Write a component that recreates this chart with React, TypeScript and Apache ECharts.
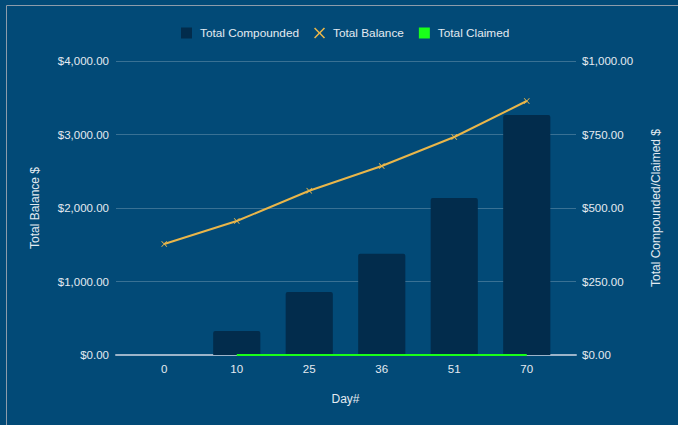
import React, { useEffect, useRef } from "react";
import * as echarts from "echarts";

const days = ["0", "10", "25", "36", "51", "70"];
const totalCompounded = [0, 82, 214, 344, 534, 816];
const totalBalance = [1510, 1823, 2235, 2571, 2966, 3456];
const totalClaimed = [null, 0, 0, 0, 0, 0];

const BG = "#024a77";
const TEXT = "#e4eaf1";
const FONT = "'Liberation Sans', Arial, sans-serif";
const CROSS = "path://M0,1L1,0L5,4L9,0L10,1L6,5L10,9L9,10L5,6L1,10L0,9L4,5Z";

const money = (v: number) =>
  "$" + v.toLocaleString("en-US", { minimumFractionDigits: 2, maximumFractionDigits: 2 });

export default function App() {
  const ref = useRef<HTMLDivElement>(null);
  useEffect(() => {
    document.body.style.margin = "0";
    document.body.style.background = BG;
    const chart = echarts.init(ref.current!, undefined, { renderer: "svg" });
    const outer = { left: 116, right: 102, top: 61, bottom: 70 };
    const inner = { left: 128, right: 115, top: 61, bottom: 70 };
    chart.setOption({
      animation: false,
      backgroundColor: BG,
      textStyle: { fontFamily: FONT },
      graphic: [
        {
          type: "rect",
          shape: { x: 6.5, y: 5.5, width: 700, height: 500 },
          style: { fill: "none", stroke: "#8d9cab", lineWidth: 1 },
          silent: true,
        },
      ],
      legend: {
        top: 22,
        left: 176,
        itemWidth: 11,
        itemHeight: 11,
        itemGap: 15,
        textStyle: { color: TEXT, fontSize: 11.8, fontFamily: FONT, padding: [0, 0, 0, 3] },
        data: [
          { name: "Total Compounded", icon: "rect" },
          { name: "Total Balance", icon: CROSS },
          { name: "Total Claimed", icon: "rect" },
        ],
      },
      grid: [outer, inner],
      xAxis: [
        {
          type: "value",
          gridIndex: 0,
          min: 0,
          max: 1,
          axisLine: { show: true, onZero: false, lineStyle: { color: "#9db4c9", width: 2 } },
          axisTick: { show: false },
          axisLabel: { show: false },
          splitLine: { show: false },
        },
        {
          type: "category",
          gridIndex: 1,
          data: days,
          name: "Day#",
          nameLocation: "middle",
          nameGap: 38,
          nameTextStyle: { color: TEXT, fontSize: 12, fontFamily: FONT },
          axisLine: { show: false },
          axisTick: { show: false },
          axisLabel: { color: TEXT, fontSize: 11.5, margin: 8, fontFamily: FONT },
        },
      ],
      yAxis: [
        {
          type: "value",
          gridIndex: 0,
          min: 0,
          max: 4000,
          interval: 1000,
          name: "Total Balance $",
          nameLocation: "middle",
          nameGap: 75,
          nameTextStyle: { color: TEXT, fontSize: 12, fontFamily: FONT },
          axisLine: { show: false },
          axisTick: { show: false },
          axisLabel: { color: TEXT, fontSize: 11.5, margin: 7, formatter: money, fontFamily: FONT },
          splitLine: { lineStyle: { color: "rgba(255,255,255,0.22)", width: 1 } },
        },
        {
          type: "value",
          gridIndex: 0,
          min: 0,
          max: 1000,
          interval: 250,
          position: "right",
          name: "Total Compounded/Claimed $",
          nameLocation: "middle",
          nameGap: 74,
          nameTextStyle: { color: TEXT, fontSize: 12, fontFamily: FONT },
          axisLine: { show: false },
          axisTick: { show: false },
          axisLabel: { color: TEXT, fontSize: 11.5, margin: 6, formatter: money, fontFamily: FONT },
          splitLine: { show: false },
        },
        {
          type: "value",
          gridIndex: 1,
          min: 0,
          max: 4000,
          show: false,
        },
        {
          type: "value",
          gridIndex: 1,
          min: 0,
          max: 1000,
          position: "right",
          show: false,
        },
      ],
      series: [
        {
          name: "Total Compounded",
          type: "bar",
          xAxisIndex: 1,
          yAxisIndex: 3,
          data: totalCompounded,
          barCategoryGap: "35%",
          itemStyle: { color: "#022c4c", borderRadius: [2, 2, 0, 0] },
        },
        {
          name: "Total Balance",
          type: "line",
          xAxisIndex: 1,
          yAxisIndex: 2,
          data: totalBalance,
          symbol: CROSS,
          symbolSize: 6,
          lineStyle: { color: "#e9b64a", width: 2 },
          itemStyle: { color: "#e9b64a" },
          z: 5,
        },
        {
          name: "Total Claimed",
          type: "line",
          xAxisIndex: 1,
          yAxisIndex: 3,
          data: totalClaimed,
          showSymbol: false,
          symbol: "none",
          lineStyle: { color: "#19ff19", width: 2 },
          itemStyle: { color: "#19ff19" },
          z: 6,
        },
      ],
    });
    return () => chart.dispose();
  }, []);
  return <div ref={ref} style={{ width: 678, height: 425 }} />;
}
